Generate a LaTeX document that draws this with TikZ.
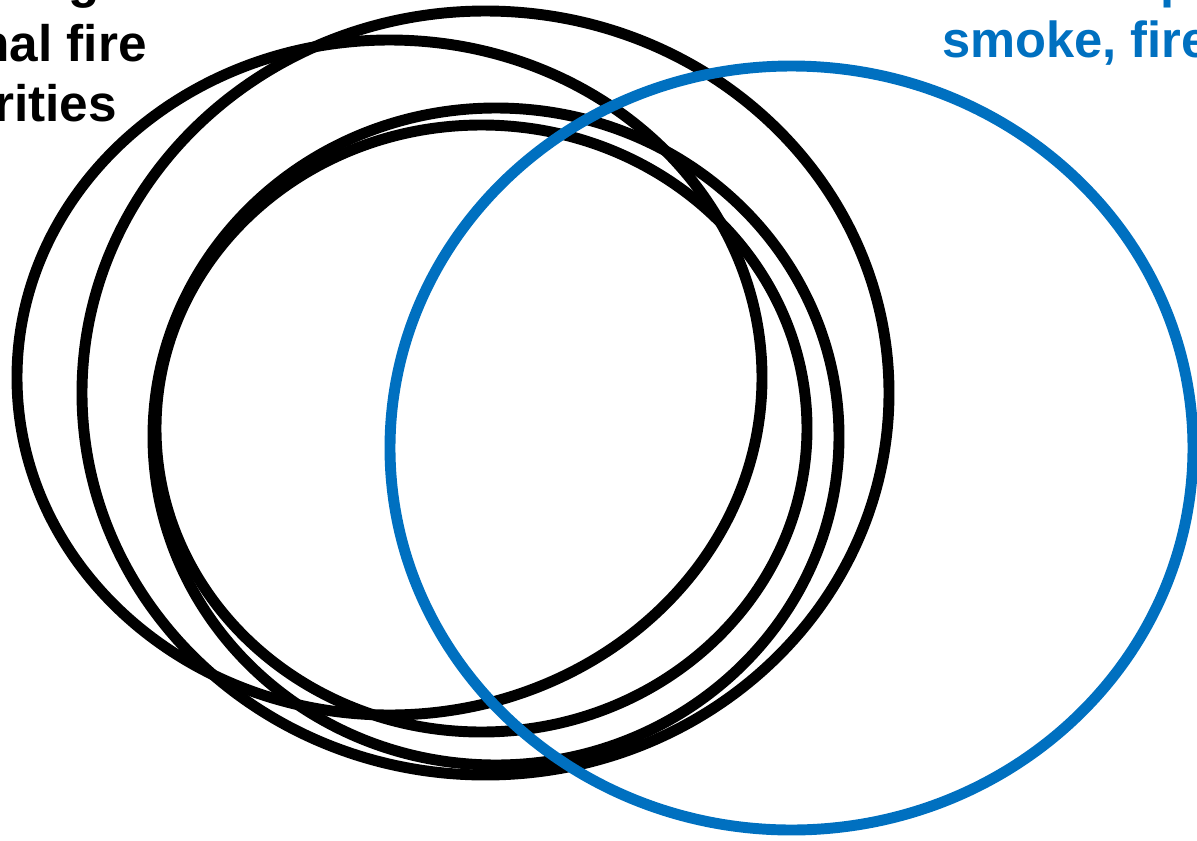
\documentclass[tikz,border=0pt]{standalone}
\usepackage{fontspec}
\setmainfont{Liberation Sans}
\definecolor{ringblue}{HTML}{0070C0}
\begin{document}
\begin{tikzpicture}[x=0.75pt, y=-0.75pt]
    \tikzstyle{ring}=[line width=8.2pt]
    \tikzstyle{lbl}=[inner sep=0pt, font=\bfseries\fontsize{38.5}{44}\selectfont]
    \tikzstyle{bluelbl}=[lbl, text=ringblue, font=\bfseries\fontsize{38}{44}\selectfont]
    \useasboundingbox (0,0) rectangle (1197,840);
    \clip (0,0) rectangle (1197,840);
    \foreach \cx/\cy/\rx/\ry in {389.5/377.5/372.5/337.5, 485.5/393/403.5/382, 496/436.5/343/328.5, 481.5/428.5/325.5/303.5} {
      \draw[ring] (\cx,\cy) ellipse [x radius=\rx, y radius=\ry];
    }
    \draw[ring, ringblue] (791.5,448) ellipse [x radius=401.5, y radius=382];
    \node[lbl, anchor=base east] (lineg) at (100,-3) {g};
    \node[lbl, anchor=base east] (linefire) at (147,61) {nal fire};
    \node[lbl, anchor=base east] (lineauth) at (117,121) {rities};
    \node[bluelbl, anchor=base west] (linep) at (1160,-3) {p};
    \node[bluelbl, anchor=base west] (linesmoke) at (942,57) {smoke, fire};
  \end{tikzpicture}
\end{document}
